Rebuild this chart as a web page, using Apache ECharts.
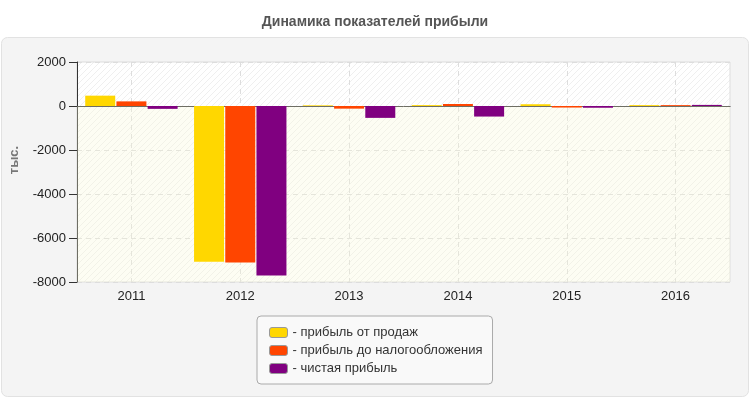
<!DOCTYPE html>
<html>
<head>
    <meta charset="utf-8">
    <title></title>
    <style type="text/css">
        html, body { margin: 0; padding: 0; background: #fff; }
        #main { width: 750px; height: 400px; }
    </style>
</head>
<body>
    <div id="main"></div>
</body>
<script src="https://cdn.jsdelivr.net/npm/echarts@6/dist/echarts.min.js"></script>
<script type="text/javascript">
    var years = ['2011', '2012', '2013', '2014', '2015', '2016'];
    var salesProfit = [470, -7080, 30, 40, 80, 40];
    var preTaxProfit = [210, -7110, -120, 90, -70, 40];
    var netProfit = [-130, -7700, -540, -480, -80, 50];
    var yTicks = { min: -8000, max: 2000, step: 2000 };
    var names = ['прибыль от продаж', 'прибыль до налогообложения', 'чистая прибыль'];
    var colors = ['#ffd700', '#ff4500', '#800080'];

    // штриховка фона области графика
    function hatch() {
        var c = document.createElement('canvas');
        c.width = 6;
        c.height = 6;
        var ctx = c.getContext('2d');
        ctx.fillStyle = '#ffffff';
        ctx.fillRect(0, 0, 6, 6);
        ctx.strokeStyle = '#efefef';
        ctx.lineWidth = 1;
        ctx.beginPath();
        ctx.moveTo(-1, 7); ctx.lineTo(7, -1);
        ctx.moveTo(-1, 1); ctx.lineTo(1, -1);
        ctx.moveTo(5, 7); ctx.lineTo(7, 5);
        ctx.stroke();
        return c;
    }

    function makeSeries(i, values) {
        var s = {
            name: names[i],
            type: 'bar',
            barWidth: 30,
            barGap: '4%',
            itemStyle: { color: colors[i] },
            data: values
        };
        if (i === 0) {
            s.markArea = {
                silent: true,
                itemStyle: { color: 'rgba(250,250,215,0.3)' },
                data: [[{ yAxis: 0 }, { yAxis: yTicks.min }]]
            };
        }
        return s;
    }

    var myChart = echarts.init(document.getElementById('main'));
    myChart.setOption({
        backgroundColor: '#ffffff',
        animation: false,
        textStyle: { fontFamily: 'Liberation Sans, Arial, sans-serif' },
        graphic: [{
            type: 'rect',
            z: -10,
            shape: { x: 1.5, y: 37.5, width: 747, height: 359, r: 6 },
            style: { fill: '#f4f4f4', stroke: '#e2e2e2', lineWidth: 1 }
        }],
        title: {
            text: 'Динамика показателей прибыли',
            left: 'center',
            top: 10,
            textStyle: { fontSize: 14, fontWeight: 'bold', color: '#555' }
        },
        legend: {
            orient: 'vertical',
            left: 257,
            top: 316,
            padding: [9, 10, 8, 12],
            itemWidth: 18,
            itemHeight: 10,
            itemGap: 3,
            icon: 'roundRect',
            backgroundColor: '#f9f9f9',
            borderColor: '#aaaaaa',
            borderWidth: 1,
            borderRadius: 4,
            textStyle: { fontSize: 13, color: '#333', lineHeight: 15 },
            formatter: function (name) { return '- ' + name; },
            data: names.map(function (n) {
                return { name: n, itemStyle: { borderColor: '#999', borderWidth: 1 } };
            })
        },
        grid: {
            left: 77,
            right: 20,
            top: 62,
            bottom: 118,
            show: true,
            backgroundColor: { image: hatch(), repeat: 'repeat' },
            borderColor: '#dddddd',
            borderWidth: 1
        },
        xAxis: {
            type: 'category',
            data: years,
            axisLine: { lineStyle: { color: '#333' } },
            axisTick: { alignWithLabel: true, length: 5, lineStyle: { color: '#333' } },
            axisLabel: { fontSize: 13, color: '#222', margin: 8 },
            splitLine: { show: true, alignWithLabel: true, lineStyle: { color: '#dddddd', type: [5, 4] } }
        },
        yAxis: {
            type: 'value',
            min: yTicks.min,
            max: yTicks.max,
            interval: yTicks.step,
            name: 'тыс.',
            nameLocation: 'middle',
            nameGap: 56,
            nameTextStyle: { fontSize: 13, fontWeight: 'bold', color: '#777', padding: [0, 0, 0, 24] },
            axisLine: { show: true, lineStyle: { color: '#333' } },
            axisTick: { show: true, length: 8, lineStyle: { color: '#333' } },
            axisLabel: { fontSize: 13, color: '#222', margin: 11, formatter: function (v) { return String(v); } },
            splitLine: { lineStyle: { color: '#dddddd', type: [5, 4] } }
        },
        series: [
            makeSeries(0, salesProfit),
            makeSeries(1, preTaxProfit),
            makeSeries(2, netProfit)
        ]
    });
</script>
</html>
